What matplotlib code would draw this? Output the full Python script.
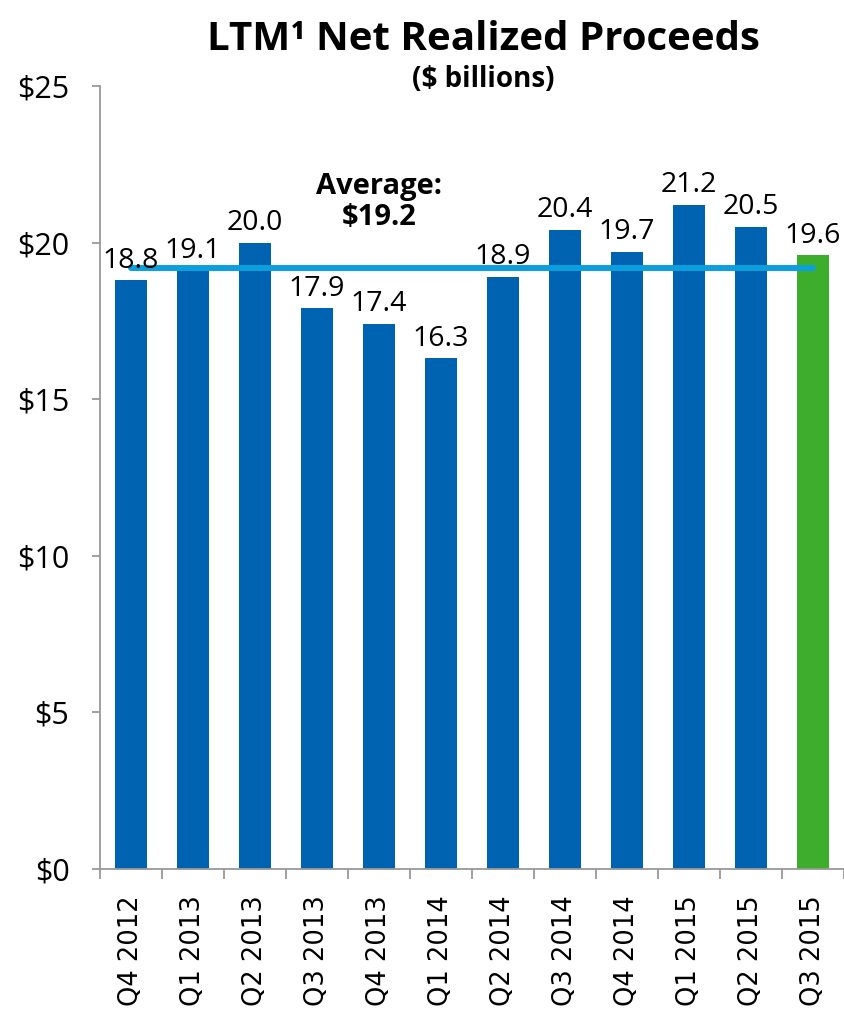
import matplotlib.pyplot as plt
import numpy as np

# Data
quarters = ["Q4 2012", "Q1 2013", "Q2 2013", "Q3 2013", "Q4 2013", "Q1 2014",
            "Q2 2014", "Q3 2014", "Q4 2014", "Q1 2015", "Q2 2015", "Q3 2015"]
proceeds = [18.8, 19.1, 20.0, 17.9, 17.4, 16.3, 18.9, 20.4, 19.7, 21.2, 20.5, 19.6]
average = 19.2
yticks = [0, 5, 10, 15, 20, 25]

plt.rcParams['font.family'] = ['Open Sans', 'DejaVu Sans']

blue = "#0063B1"
green = "#3DAE2B"
colors = [blue] * (len(proceeds) - 1) + [green]

fig = plt.figure(figsize=(8.44, 10.11), dpi=100)
ax = fig.add_axes([0.1185, 0.1405, 0.8815, 0.7745])

x = np.arange(len(quarters))
ax.bar(x, proceeds, width=0.52, color=colors, zorder=2)

# average line, from first to last bar centre
ax.plot([x[0], x[-1]], [average, average], color="#0BA0DD", linewidth=4.3,
        solid_capstyle="round", zorder=3)
ax.text(4, 21.3, "Average:\n$" + f"{average:.1f}", ha="center", va="center",
        fontsize=21, fontweight="bold", linespacing=1.1)

# value labels
for xi, v in zip(x, proceeds):
    ax.annotate(f"{v:.1f}", (xi, v), xytext=(0, 4), textcoords="offset points",
                ha="center", va="bottom", fontsize=20.5, zorder=4)

ax.set_xlim(-0.5, len(quarters) - 0.5)
ax.set_ylim(0, 25)
ax.set_yticks(yticks)
ax.set_yticklabels(["$" + str(t) for t in yticks], fontsize=22)
ax.set_xticks(x)
ax.set_xticklabels(quarters, rotation=90)
ax.set_xticks(np.arange(-0.5, len(quarters), 1), minor=True)
ax.tick_params(axis="x", which="major", length=0, pad=19,
               labelfontfamily="DejaVu Sans", labelsize=18.5)
ax.tick_params(axis="x", which="minor", length=7, color="#999999", width=1.3)
ax.tick_params(axis="y", length=6, color="#999999", width=1.3, pad=16)

for s in ["top", "right"]:
    ax.spines[s].set_visible(False)
for s in ["left", "bottom"]:
    ax.spines[s].set_color("#999999")
    ax.spines[s].set_linewidth(1.3)

fig.text(0.573, 0.961, "LTM\u00b9 Net Realized Proceeds", ha="center", va="center",
         fontsize=29, fontweight="bold")
fig.text(0.573, 0.921, "($ billions)", ha="center", va="center",
         fontsize=20, fontweight="bold")

plt.savefig("out.png", dpi=100)
